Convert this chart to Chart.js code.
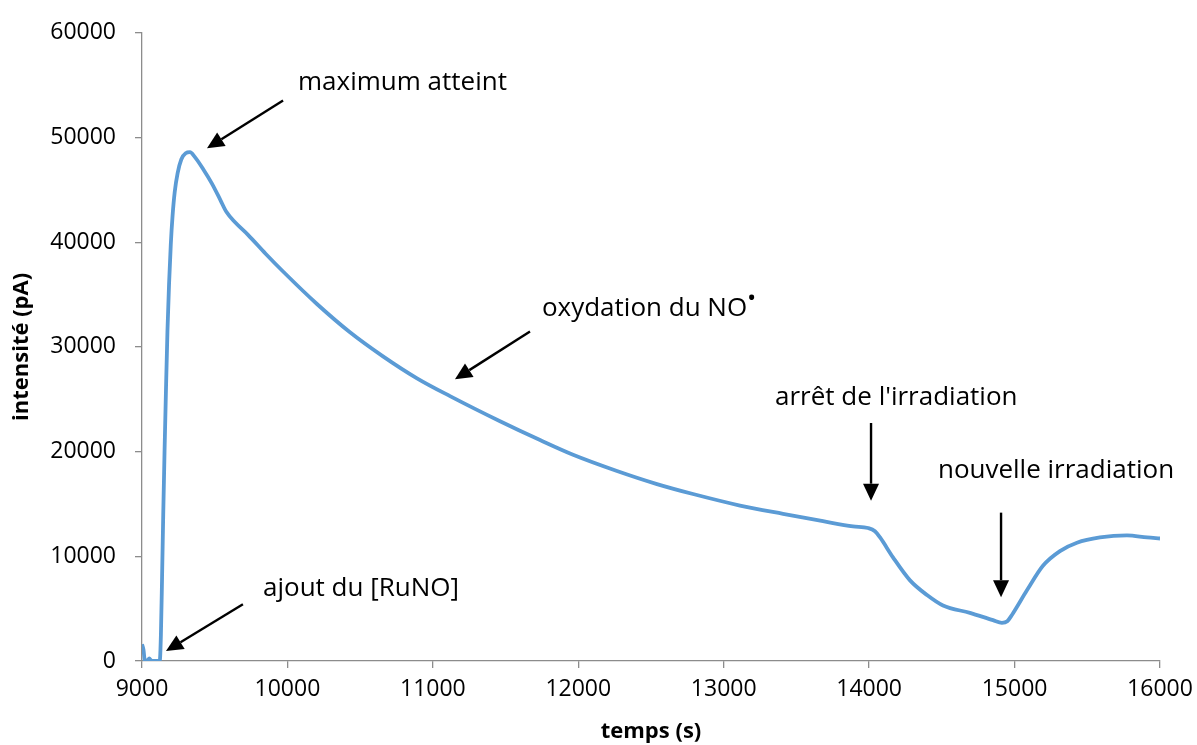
<!DOCTYPE html>
<html>
<head>
<meta charset="utf-8">
<script src="https://cdn.jsdelivr.net/npm/chart.js@4.4.1/dist/chart.umd.min.js"></script>
<style>
  html, body { margin: 0; padding: 0; background: #ffffff; }
  #wrap { width: 1197px; height: 745px; position: relative; }
</style>
</head>
<body>
<div id="wrap"><canvas id="c"></canvas></div>
<script>
// ---- data ----
const timeValues = [
  9000, 9010, 9020, 9040, 9050, 9060, 9080, 9110, 9122, 9130, 9138, 9146, 9155, 9165, 9175, 9186, 9198,
  9210, 9225, 9245, 9270, 9300, 9330, 9360, 9420, 9481, 9540, 9580, 9640, 9729, 9850, 9970,
  10203, 10430, 10657, 10891, 11118, 11462, 11737, 11964, 12266, 12541, 12789, 13112, 13408, 13683,
  13889, 13992, 14040, 14075, 14164, 14281, 14398, 14508, 14693, 14852, 14913, 14950, 14982, 15085,
  15195, 15312, 15429, 15587, 15773, 15911, 16000
];
const intensityValues = [
  1600, 1100, 0, 100, 250, 80, 0, 0, 0, 2500, 8000, 14000, 20000, 26000, 31500, 36000, 39800,
  42500, 44800, 46600, 47900, 48500, 48600, 48200, 47000, 45600, 44000, 42900, 41900, 40700, 38900, 37200,
  34100, 31400, 29100, 27000, 25300, 22900, 21100, 19700, 18150, 16900, 15950, 14850, 14050, 13350,
  12850, 12700, 12400, 11800, 9900, 7700, 6300, 5300, 4600, 3900, 3650, 3800, 4400, 6750,
  9100, 10500, 11300, 11800, 12000, 11800, 11700
];
const xTickLabels = [9000, 10000, 11000, 12000, 13000, 14000, 15000, 16000];
const yTickLabels = [0, 10000, 20000, 30000, 40000, 50000, 60000];

// annotation texts and anchor values (data coordinates)
const noteTexts = ["maximum atteint", "oxydation du NO", "arrêt de l'irradiation", "nouvelle irradiation", "ajout du [RuNO]"];
const noteTextT = [10073, 11750, 13353, 14473, 9832];
const noteTextV = [55245, 33660, 25200, 18160, 6940];
const arrowFromT = [9970, 11668, 14013, 14907, 9694];
const arrowFromV = [53530, 31470, 22730, 14170, 5420];
const arrowToT = [9447, 11152, 14013, 14907, 9165];
const arrowToV = [48970, 26910, 15310, 6090, 950];

const points = timeValues.map((t, i) => ({ x: t, y: intensityValues[i] }));

const annotationPlugin = {
  id: 'notes',
  afterDatasetsDraw(chart) {
    const ctx = chart.ctx;
    const xs = chart.scales.x, ys = chart.scales.y;
    ctx.save();
    ctx.fillStyle = '#000000';
    ctx.strokeStyle = '#000000';
    const mainFont = '26px "Open Sans"';
    ctx.font = mainFont;
    ctx.textBaseline = 'middle';
    ctx.textAlign = 'left';
    noteTexts.forEach((txt, i) => {
      const px = xs.getPixelForValue(noteTextT[i]);
      const py = ys.getPixelForValue(noteTextV[i]);
      ctx.fillText(txt, px, py);
      if (i === 1) {
        const w = ctx.measureText(txt).width;
        ctx.font = 'bold 18px "Open Sans"';
        ctx.fillText('•', px + w + 1, py - 10);
        ctx.font = mainFont;
      }
    });
    // arrows
    arrowFromT.forEach((t, i) => {
      const x1 = xs.getPixelForValue(t), y1 = ys.getPixelForValue(arrowFromV[i]);
      const x2 = xs.getPixelForValue(arrowToT[i]), y2 = ys.getPixelForValue(arrowToV[i]);
      const ang = Math.atan2(y2 - y1, x2 - x1);
      const headLen = 17, headHalf = 8;
      const bx = x2 - headLen * Math.cos(ang), by = y2 - headLen * Math.sin(ang);
      ctx.lineWidth = 2.4;
      ctx.beginPath();
      ctx.moveTo(x1, y1);
      ctx.lineTo(bx, by);
      ctx.stroke();
      ctx.beginPath();
      ctx.moveTo(x2, y2);
      ctx.lineTo(bx + headHalf * Math.sin(ang), by - headHalf * Math.cos(ang));
      ctx.lineTo(bx - headHalf * Math.sin(ang), by + headHalf * Math.cos(ang));
      ctx.closePath();
      ctx.fill();
    });
    ctx.restore();
  }
};

new Chart(document.getElementById('c'), {
  type: 'line',
  data: {
    datasets: [{
      data: points,
      borderColor: '#5B9BD5',
      borderWidth: 3.8,
      pointRadius: 0,
      fill: false,
      cubicInterpolationMode: 'monotone'
    }]
  },
  options: {
    responsive: true,
    maintainAspectRatio: false,
    animation: false,
    layout: { padding: { top: 30, right: 37, bottom: 0, left: 0 } },
    plugins: { legend: { display: false }, tooltip: { enabled: false } },
    scales: {
      x: {
        type: 'linear',
        min: 9000, max: 16000,
        afterFit(scale) { scale.height = 84; scale.paddingRight = 0; scale.paddingLeft = 0; },
        afterBuildTicks(scale) { scale.ticks = xTickLabels.map(v => ({ value: v })); },
        grid: { drawOnChartArea: false, drawTicks: true, tickLength: 7, color: '#8c8c8c', lineWidth: 1.3 },
        border: { color: '#8c8c8c', width: 1.3 },
        ticks: { color: '#000000', font: { family: '"Open Sans"', size: 23 }, padding: 8, maxRotation: 0,
                 callback: v => String(v) },
        title: { display: true, text: 'temps (s)', color: '#000000',
                 font: { family: '"Open Sans"', size: 22, weight: 'bold' }, padding: { top: 0, bottom: 0 } }
      },
      y: {
        type: 'linear',
        min: 0, max: 60000,
        afterFit(scale) { scale.width = 142; },
        afterBuildTicks(scale) { scale.ticks = yTickLabels.map(v => ({ value: v })); },
        grid: { drawOnChartArea: false, drawTicks: true, tickLength: 7, color: '#8c8c8c', lineWidth: 1.3 },
        border: { color: '#8c8c8c', width: 1.3 },
        ticks: { color: '#000000', font: { family: '"Open Sans"', size: 23 }, padding: 19,
                 callback: v => String(v) },
        title: { display: true, text: 'intensité (pA)', color: '#000000',
                 font: { family: '"Open Sans"', size: 22, weight: 'bold' }, padding: { top: 9, bottom: 0 } }
      }
    }
  },
  plugins: [annotationPlugin]
});
</script>
</body>
</html>
